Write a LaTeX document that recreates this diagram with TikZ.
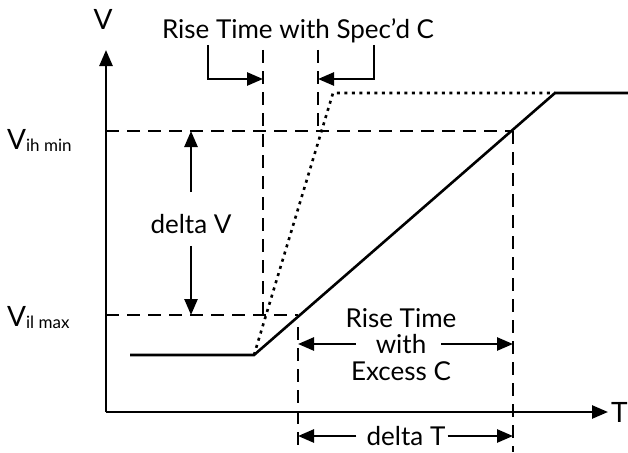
\documentclass[tikz,border=0pt]{standalone}
\usepackage{fontspec}
\setmainfont{Lato}
\usetikzlibrary{arrows.meta, positioning}

\begin{document}
\begin{tikzpicture}[
  x=1pt, y=-1pt,
  lbl/.style={font=\fontsize{26}{28}\selectfont, inner sep=0pt},
  axlbl/.style={font=\fontsize{28}{30}\selectfont, inner sep=0pt},
  axis/.style={line width=2.6pt, -{Triangle[length=16pt, width=13pt]}},
  guide/.style={line width=2.6pt, dash pattern=on 13pt off 8pt},
  signal/.style={line width=2.6pt},
  ideal/.style={line width=2.6pt, dash pattern=on 3pt off 4.5pt},
  dim/.style={line width=2.6pt, -{Triangle[length=16pt, width=13pt]}}
]
\useasboundingbox (0,0) rectangle (628,452);

\coordinate (O) at (106,412);
\coordinate (Vtop) at (106,50);
\coordinate (Tend) at (608,412);
\draw[axis] (O) -- (Vtop);
\draw[axis] (O) -- (Tend);
\node[axlbl, anchor=base] (V) at (103,30) {V};
\node[axlbl, anchor=west] (T) at (611,412) {T};

\coordinate (ih) at (106,131);
\coordinate (il) at (106,315);
\node[axlbl, anchor=base west] (Vih) at (7,149) {V\raisebox{-2pt}{\fontsize{17}{19}\selectfont ih min}};
\node[axlbl, anchor=base west] (Vil) at (7,326) {V\raisebox{-2pt}{\fontsize{17}{19}\selectfont il max}};

\coordinate (s0) at (130,355);
\coordinate (knee) at (254,355);
\coordinate (fast) at (333,93);
\coordinate (slow) at (555,93);
\coordinate (s1) at (628,93);
\draw[signal] (s0) -- (knee) -- (slow) -- (s1);
\draw[ideal] (knee) -- (fast) -- (slow);

\coordinate (tA) at (263,50);
\coordinate (tB) at (318,50);
\coordinate (tC) at (298,452);
\coordinate (tD) at (513,452);
\draw[guide] (ih) -- (tD |- ih);
\draw[guide] (il) -- (tC |- il);
\draw[guide] (tA) -- (tA |- il);
\draw[guide] (tB) -- (tB |- ih);
\draw[guide] ([yshift=-12pt]tC |- il) -- (tC);
\draw[guide] (tD |- ih) -- (tD);

\node[lbl, anchor=base] (spec) at (298,38) {Rise Time with Spec’d C};
\coordinate (bl) at (208,45);
\coordinate (br) at (374,45);
\draw[dim] (bl) |- ([yshift=-29pt]tA);
\draw[dim] (br) |- ([yshift=-29pt]tB);

\node[lbl] (dV) at (191,224) {delta V};
\draw[dim] ([yshift=22pt]dV.north) -- (dV.north |- ih);
\draw[dim] ([yshift=-12pt]dV.south) -- (dV.south |- il);

\node[lbl] (with) at (401,344) {with};
\node[lbl, above=6pt of with] (rise) {Rise Time};
\node[lbl, below=8pt of with] (excess) {Excess C};
\draw[dim] ([xshift=-20pt]with.west) -- (with.west -| tC);
\draw[dim] ([xshift=15pt]with.east) -- (with.east -| tD);

\node[lbl] (dT) at (406,436) {delta T};
\draw[dim] ([xshift=-10pt]dT.west) -- (dT.west -| tC);
\draw[dim] ([xshift=2pt]dT.east) -- (dT.east -| tD);
\end{tikzpicture}
\end{document}
